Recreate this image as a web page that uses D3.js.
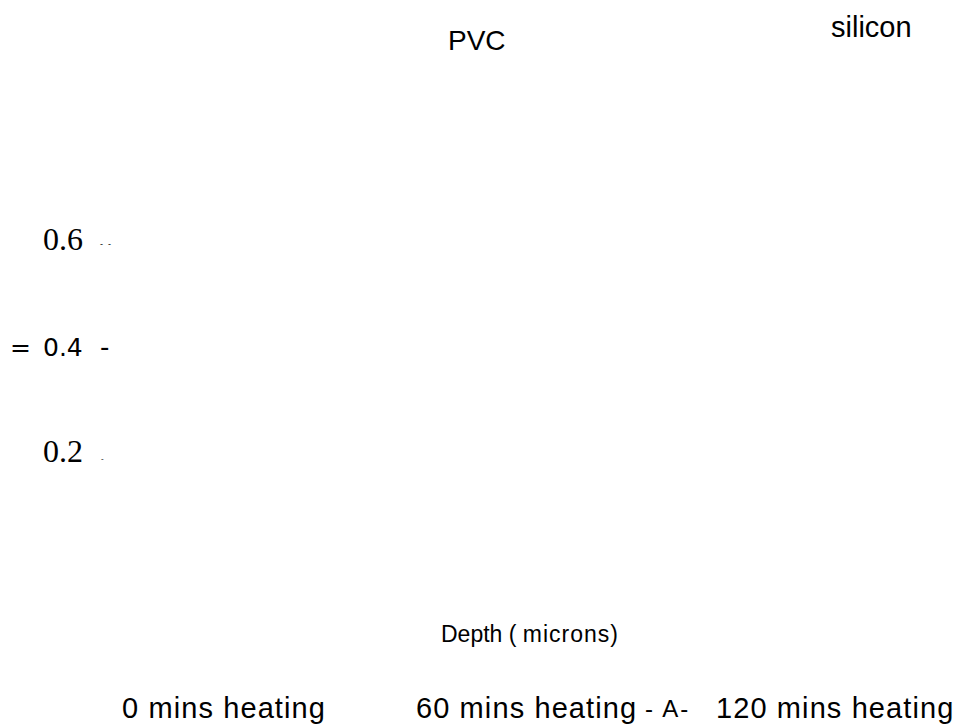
<!DOCTYPE html>
<html>
<head>
<meta charset="utf-8">
<script src="https://cdn.jsdelivr.net/npm/d3@7"></script>
<style>
  html, body { margin: 0; padding: 0; background: #fff; }
  svg { display: block; }
</style>
</head>
<body>
<script>
// Panel titles across the top
const panels = ["PVC", "silicon"];
// Y-axis tick values (stress ratio)
const yTicks = [0.6, 0.4, 0.2];
// Legend entries for heating time
const series = ["0 mins heating", "60 mins heating", "120 mins heating"];
const xTitle = "Depth ( microns)";

const W = 959, H = 726;
const svg = d3.select("body").append("svg")
  .attr("width", W).attr("height", H);

const y = d3.scaleLinear().domain([0.2, 0.6]).range([462, 250]);

// panel titles
const titleX = d3.scalePoint().domain(panels).range([448, 831]);
svg.selectAll("text.panel").data(panels).join("text")
  .attr("class", "panel")
  .attr("x", d => titleX(d))
  .attr("y", (d, i) => i === 0 ? 50 : 37)
  .attr("font-family", "Liberation Sans, Arial, sans-serif")
  .attr("font-size", (d, i) => i === 0 ? 28 : 29)
  .attr("fill", "#000")
  .text(d => d);

// y tick labels
const tickG = svg.append("g");
yTicks.forEach(v => {
  const mid = v === 0.4;
  tickG.append("text")
    .attr("x", 43).attr("y", y(v))
    .attr("font-family", mid ? "DejaVu Sans, sans-serif" : "Liberation Serif, Times New Roman, serif")
    .attr("font-size", mid ? 25 : 32)
    .attr("fill", "#000")
    .text(d3.format(".1f")(v));
});
// tick marks beside labels
tickG.append("text").attr("x", 100).attr("y", y(0.6) - 3)
  .attr("font-family", "Liberation Sans, Arial, sans-serif")
  .attr("font-size", 9).attr("letter-spacing", 5).attr("fill", "#000").text("--");
tickG.append("text").attr("x", 100).attr("y", y(0.4))
  .attr("font-family", "DejaVu Sans, sans-serif")
  .attr("font-size", 26).attr("fill", "#000").text("-");
tickG.append("text").attr("x", 101).attr("y", y(0.2) - 1)
  .attr("font-family", "Liberation Sans, Arial, sans-serif")
  .attr("font-size", 8).attr("fill", "#000").text("-");
// axis title glyph
tickG.append("text").attr("x", 10).attr("y", y(0.4))
  .attr("font-family", "DejaVu Sans, sans-serif")
  .attr("font-size", 25).attr("fill", "#000").text("=");

// x axis title
svg.append("text")
  .attr("x", 441).attr("y", 642)
  .attr("font-family", "Liberation Sans, Arial, sans-serif")
  .attr("font-size", 23).attr("fill", "#000")
  .html('Depth ( <tspan letter-spacing="1">microns</tspan>)');

// legend
const legendX = [122, 416, 716];
const legend = svg.append("g")
  .attr("font-family", "Liberation Sans, Arial, sans-serif")
  .attr("fill", "#000");
series.forEach((s, i) => {
  legend.append("text")
    .attr("x", legendX[i]).attr("y", 718)
    .attr("font-size", 29)
    .attr("letter-spacing", 1.1)
    .text(s);
});
// marker symbol for the last series
legend.append("text")
  .attr("x", 645).attr("y", 717)
  .attr("font-size", 24)
  .attr("letter-spacing", 2)
  .text("- A-");
</script>
</body>
</html>
